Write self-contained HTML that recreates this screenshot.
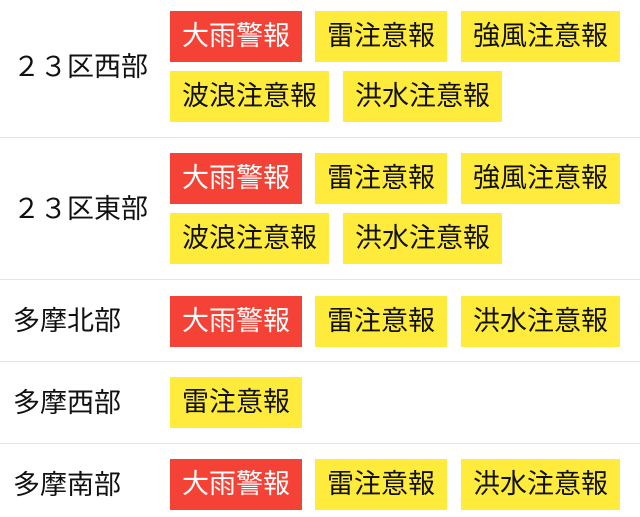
<!DOCTYPE html>
<html><head><meta charset="utf-8"><style>
body{margin:0;width:640px;height:517px;background:#fff;position:relative;overflow:hidden;font-family:"Liberation Sans","Noto Sans CJK JP",sans-serif}
.l{position:absolute;left:13px;font-size:27px;color:#111;line-height:30px}
.b{position:absolute;height:51px;line-height:51px;font-size:27px;padding:0 12px;background:#ffeb3b;color:#111;white-space:nowrap}
.r{background:#f44336;color:#fff}
.hr{position:absolute;left:0;width:640px;height:1px;background:#e4e4e4}
</style></head><body>
<div class="l" style="top:52px">２３区西部</div>
<div class="b r" style="left:170px;top:11px">大雨警報</div>
<div class="b" style="left:315px;top:11px">雷注意報</div>
<div class="b" style="left:461px;top:11px">強風注意報</div>
<div class="b" style="left:170px;top:71px">波浪注意報</div>
<div class="b" style="left:343px;top:71px">洪水注意報</div>
<div class="hr" style="top:137px"></div>
<div class="l" style="top:194px">２３区東部</div>
<div class="b r" style="left:170px;top:153px">大雨警報</div>
<div class="b" style="left:315px;top:153px">雷注意報</div>
<div class="b" style="left:461px;top:153px">強風注意報</div>
<div class="b" style="left:170px;top:213px">波浪注意報</div>
<div class="b" style="left:343px;top:213px">洪水注意報</div>
<div class="hr" style="top:279px"></div>
<div class="l" style="top:306px">多摩北部</div>
<div class="b r" style="left:170px;top:296px">大雨警報</div>
<div class="b" style="left:315px;top:296px">雷注意報</div>
<div class="b" style="left:461px;top:296px">洪水注意報</div>
<div class="hr" style="top:361px"></div>
<div class="l" style="top:388px">多摩西部</div>
<div class="b" style="left:170px;top:377px">雷注意報</div>
<div class="hr" style="top:443px"></div>
<div class="l" style="top:470px">多摩南部</div>
<div class="b r" style="left:170px;top:459px">大雨警報</div>
<div class="b" style="left:315px;top:459px">雷注意報</div>
<div class="b" style="left:461px;top:459px">洪水注意報</div>
</body></html>
